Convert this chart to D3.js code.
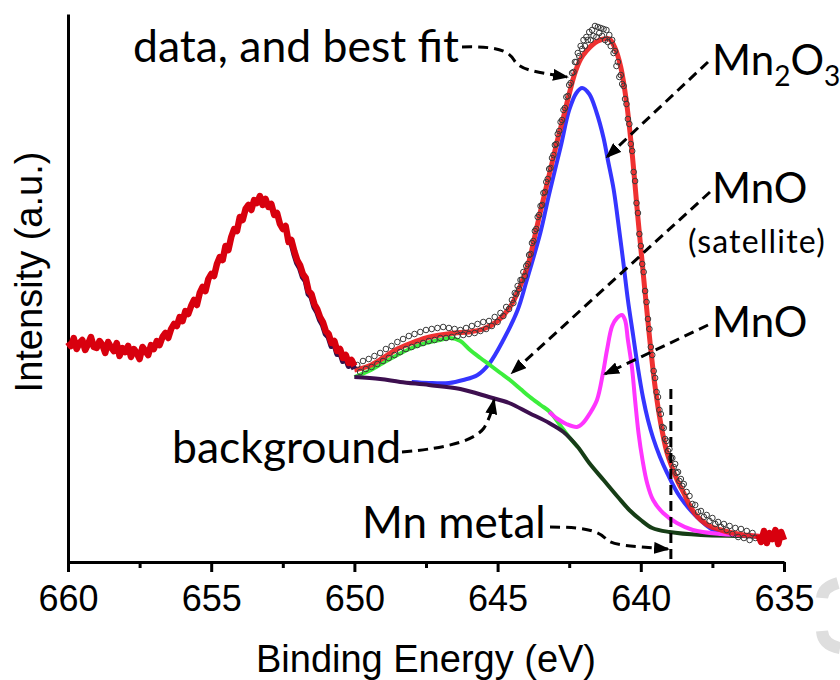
<!DOCTYPE html>
<html lang="en">
<head>
<meta charset="UTF-8">
<title>Mn 2p XPS fit</title>
<script src="https://d3js.org/d3.v7.min.js"></script>
<style>
  body { margin: 0; background: #fff; }
  svg { display: block; }
  .axis text { font-family: "Liberation Sans", Arial, sans-serif; font-size: 36px; fill: #000; }
  .title { font-family: "Liberation Sans", Arial, sans-serif; fill: #000; }
  .note { font-family: Lato, "Open Sans", sans-serif; fill: #000; }
</style>
</head>
<body>
<svg width="840" height="680"></svg>
<script>
// binding energy (eV) / intensity (a.u.)
const tickValues = [660, 655, 650, 645, 640, 635];
const minorTicks = [657.5, 652.5, 647.5, 642.5, 637.5];

// raw spectrum 660.0 -> 650.0 eV, 0.1 eV step (drawn as thick red trace)
const rawLeft = [
  220,216,224,213,219,222,212,218,225,215,
  214,221,217,209,220,215,211,219,206,214,
  210,216,205,213,209,203,215,211,207,217,
  213,221,217,225,229,224,233,238,236,245,
  241,251,248,256,262,257,269,275,271,283,
  288,286,298,305,302,316,312,325,333,331,
  345,342,353,357,352,362,359,366,357,363,
  355,358,347,349,338,333,336,320,322,311,
  302,297,288,284,271,268,258,253,245,240,
  231,228,219,221,211,213,204,207,199,202,
  196];

// raw spectrum as open circles
const rawA = [ // 649.9 -> 644.6 eV, 0.1 eV
  197,190,201,193,203,195,206,198,209,201,
  213,204,216,207,220,210,223,213,226,215,
  228,217,230,219,232,221,233,222,234,224,
  235,224,234,225,233,226,232,227,234,228,
  236,229,238,231,240,233,241,236,245,240,
  249,246,255,253];
const rawB = [ // 644.50 -> 638.55 eV, 0.05 eV
  262,259,269,268,276,273,282,282,290,286,
  296,298,307,308,319,321,331,333,345,347,
  356,357,369,370,380,383,393,394,404,407,
  417,418,428,431,440,442,452,454,465,466,
  477,479,489,490,500,500,509,506,516,513,
  522,516,525,522,530,522,532,526,536,525,
  535,529,534,526,533,522,532,520,527,516,
  522,509,511,496,500,485,487,478,476,463,
  458,443,438,418,411,390,381,359,349,328,
  316,298,290,271,260,243,233,215,207,191,
  184,170,165,152,148,135,134,123,121,111,
  113,104,104,95,98,89,90,81,83,76];
const rawC = [ // 638.5 -> 636.0 eV, 0.1 eV
  78,70,66,58,57,50,51,45,47,41,44,38,40,35,38,32,36,28,34,25,33,24,31,22,29,24];
const rawTail = [27,20,31,19,29,23,32,18,30,22]; // 635.9 -> 635.0 eV

// fitted curves [eV, intensity]
const fitEnvelope = [[650.0,192],[649.5,196],[649.0,204],[648.5,213],[648.0,219],[647.5,224],[647.0,227],
  [646.5,229],[646.0,230],[645.5,233],[645.0,241],[644.5,258],[644.3,270],[644.1,284],[643.9,301],
  [643.7,326],[643.5,351],[643.3,375],[643.1,399],[642.9,423],[642.7,445],[642.5,468],[642.3,489],
  [642.1,503],[641.9,511],[641.7,517],[641.5,521],[641.3,523],[641.1,523],[640.9,514],[640.7,495],
  [640.5,460],[640.3,408],[640.1,344],[639.9,284],[639.7,226],[639.5,175],[639.3,138],[639.1,111],
  [638.9,94],[638.7,80],[638.5,69],[638.3,57],[638.1,48],[637.9,42],[637.6,36],[637.2,32],[636.8,29],
  [636.4,27],[636.0,26],[635.5,25],[635.0,25]];
const mn2o3Curve = [[648.0,180],[647.4,179],[646.7,179],[646.2,182],[645.7,187],[645.3,198],[644.8,222],
  [644.3,252],[644.0,280],[643.5,330],[643.2,368],[642.8,415],[642.5,452],[642.25,469],[642.05,474],
  [641.8,468],[641.55,450],[641.3,424],[641.15,402],[640.95,373],[640.8,342],[640.62,302],[640.45,262],
  [640.27,227],[640.1,194],[639.92,164],[639.75,142],[639.57,124],[639.33,105],[639.08,89],[638.63,65],
  [638.04,45],[637.48,32],[636.8,27],[636.0,25.5],[635.0,25]];
const satelliteCurve = [[650.0,185],[649.5,191],[649.0,199],[648.5,207],[648.0,214],[647.5,219],[647.0,222],
  [646.66,224],[646.3,221],[645.96,212],[645.6,204],[645.27,197],[644.9,189],[644.57,182],[644.2,173],
  [643.87,165],[643.5,157],[643.17,150],[642.72,133],[642.45,123],[642.2,115]];
const mnoCurve = [[643.2,150],[642.9,143],[642.6,138],[642.23,135],[642.02,139],[641.77,149],[641.53,162],
  [641.32,189],[641.18,212],[641.0,236],[640.83,244],[640.66,247],[640.55,242],[640.45,222],[640.31,195],
  [640.2,162],[640.08,129],[639.94,102],[639.78,79],[639.57,62],[639.22,49],[638.74,39],[638.18,32],
  [637.2,28],[635.8,26],[635.0,25]];
const backgroundCurve = [[650.0,185],[649.1,183],[648.4,180],[647.4,177],[646.3,173],[645.3,165],[644.6,159],
  [643.9,149],[643.2,139],[642.7,130],[642.2,115],[641.8,99],[641.3,82],[640.8,65],[640.4,52],[640.0,42],
  [639.6,34],[639.0,30],[637.9,27],[636.5,26],[635.0,25]];
const metalEnergy = 638.95;

// ---------------------------------------------------------------

const svg = d3.select("svg");
const x = d3.scaleLinear().domain([660, 635]).range([68, 784]);
const y = d3.scaleLinear().domain([0, 548]).range([562, 14]);

const toPts = (vals, start, step) => vals.map((v, i) => [start - i * step, v]);
const leftPts = toPts(rawLeft, 660, 0.1);
const circlePts = toPts(rawA, 649.9, 0.1)
  .concat(toPts(rawB, 644.5, 0.05))
  .concat(toPts(rawC, 638.5, 0.1));
const tailPts = toPts(rawTail, 635.9, 0.1);

const smooth = d3.line().x(d => x(d[0])).y(d => y(d[1])).curve(d3.curveCatmullRom.alpha(0.5));
const straight = d3.line().x(d => x(d[0])).y(d => y(d[1]));

const defs = svg.append("defs");
defs.append("marker")
    .attr("id", "head")
    .attr("viewBox", "0 0 16 12")
    .attr("refX", 14).attr("refY", 6)
    .attr("markerWidth", 16).attr("markerHeight", 12)
    .attr("markerUnits", "userSpaceOnUse")
    .attr("orient", "auto")
  .append("path").attr("d", "M0,0 L16,6 L0,12 Z").attr("fill", "#000");

// background goes from purple to dark green where it meets the satellite
const grad = defs.append("linearGradient").attr("id", "bgGrad")
    .attr("gradientUnits", "userSpaceOnUse")
    .attr("x1", x(650)).attr("x2", x(635)).attr("y1", 0).attr("y2", 0);
const off = e => (x(e) - x(650)) / (x(635) - x(650));
grad.append("stop").attr("offset", off(643.0)).attr("stop-color", "#3d0f4f");
grad.append("stop").attr("offset", off(642.3)).attr("stop-color", "#163d16");

// axes
const gx = svg.append("g").attr("class", "axis")
    .attr("transform", "translate(0,562)")
    .call(d3.axisBottom(x).tickValues(tickValues).tickSize(10).tickPadding(13)
      .tickSizeOuter(0).tickFormat(d3.format("d")));
gx.select(".domain").attr("stroke-width", 3);
gx.selectAll(".tick line").attr("stroke-width", 3);

svg.append("g")
    .attr("transform", "translate(0,562)")
    .call(d3.axisBottom(x).tickValues(minorTicks).tickSize(6).tickFormat(""))
    .call(g => g.select(".domain").remove())
    .selectAll("line").attr("stroke-width", 3);

const gy = svg.append("g")
    .attr("transform", "translate(68,0)")
    .call(d3.axisLeft(y).tickValues([]).tickSizeOuter(0));
gy.select(".domain").attr("stroke-width", 3);

svg.append("text").attr("class", "title")
    .attr("x", 426).attr("y", 672)
    .attr("text-anchor", "middle").style("font-size", "38px")
    .text("Binding Energy (eV)");
svg.append("text").attr("class", "title")
    .attr("transform", "translate(42,272) rotate(-90)")
    .attr("text-anchor", "middle").style("font-size", "38px")
    .text("Intensity (a.u.)");

// fitted components
svg.append("path").attr("d", smooth(mn2o3Curve))
    .attr("fill", "none").attr("stroke", "#3535ff").attr("stroke-width", 4);
svg.append("path").attr("d", smooth(satelliteCurve))
    .attr("fill", "none").attr("stroke", "#3cee3c").attr("stroke-width", 4);
svg.append("path").attr("d", smooth(backgroundCurve))
    .attr("fill", "none").attr("stroke", "url(#bgGrad)").attr("stroke-width", 4);
svg.append("path").attr("d", smooth(mnoCurve))
    .attr("fill", "none").attr("stroke", "#ff35ff").attr("stroke-width", 4);
svg.append("path").attr("d", smooth(fitEnvelope))
    .attr("fill", "none").attr("stroke", "#ee2020").attr("stroke-opacity", 0.92)
    .attr("stroke-width", 5);

// data
svg.selectAll("circle.raw")
  .data(circlePts)
  .enter().append("circle")
    .attr("class", "raw")
    .attr("cx", d => x(d[0])).attr("cy", d => y(d[1]))
    .attr("r", 2.8)
    .attr("fill", "none").attr("stroke", "#3a3a3a").attr("stroke-width", 1);

// dark edge under the descending side of the first peak
svg.append("path").attr("d", straight(leftPts.filter(d => d[0] <= 652.2)))
    .attr("transform", "translate(0,3)")
    .attr("fill", "none").attr("stroke", "#36104a").attr("stroke-width", 6)
    .attr("stroke-linejoin", "round");
svg.append("path").attr("d", straight(leftPts))
    .attr("fill", "none").attr("stroke", "#d8000e").attr("stroke-width", 6.5)
    .attr("stroke-linejoin", "round");
svg.append("path").attr("d", straight(tailPts))
    .attr("fill", "none").attr("stroke", "#d8000e").attr("stroke-width", 6.5)
    .attr("stroke-linejoin", "round");

// annotations
const dash = "10,6";
const arrows = [
  "M462,47 C495,46 508,50 514,60 C520,70 535,72 567,77",
  "M708,62 L607,157",
  "M710,192 L512,373",
  "M708,325 L605,374",
  "M402,452 C450,448 475,440 484,428 C490,418 492,410 494,400",
  "M550,527 C580,527 598,530 605,538 C612,546 630,546 668,549"
];
svg.selectAll("path.arrow")
  .data(arrows)
  .enter().append("path")
    .attr("class", "arrow")
    .attr("d", d => d)
    .attr("fill", "none").attr("stroke", "#000").attr("stroke-width", 3)
    .attr("stroke-dasharray", dash)
    .attr("marker-end", "url(#head)");

svg.append("line")
    .attr("x1", x(metalEnergy)).attr("x2", x(metalEnergy))
    .attr("y1", 389).attr("y2", y(0))
    .attr("stroke", "#000").attr("stroke-width", 3).attr("stroke-dasharray", dash);

const note = (tx, ty, size, str) => svg.append("text").attr("class", "note")
    .attr("x", tx).attr("y", ty).style("font-size", size + "px").text(str);

note(133, 62, 44.5, "data, and best fit");

const mn2o3 = svg.append("text").attr("class", "note")
    .attr("x", 712).attr("y", 75).style("font-size", "42px");
mn2o3.append("tspan").text("Mn");
mn2o3.append("tspan").attr("dy", 11).style("font-size", "28px").text("2");
mn2o3.append("tspan").attr("dy", -11).text("O");
mn2o3.append("tspan").attr("dy", 11).style("font-size", "28px").text("3");

note(712, 203, 42, "MnO");
note(688, 253, 32, "(satellite)").style("letter-spacing", "1.2px");
note(712, 337, 42, "MnO");
note(172, 463, 44.5, "background");
note(362, 538, 44, "Mn metal");

// faint grey mark at the lower right edge of the source image
svg.append("path")
    .attr("d", "M838,583 Q823,587 822,598 M822,631 Q823,645 840,648")
    .attr("fill", "none").attr("stroke", "#dedede").attr("stroke-width", 12);
</script>
</body>
</html>
